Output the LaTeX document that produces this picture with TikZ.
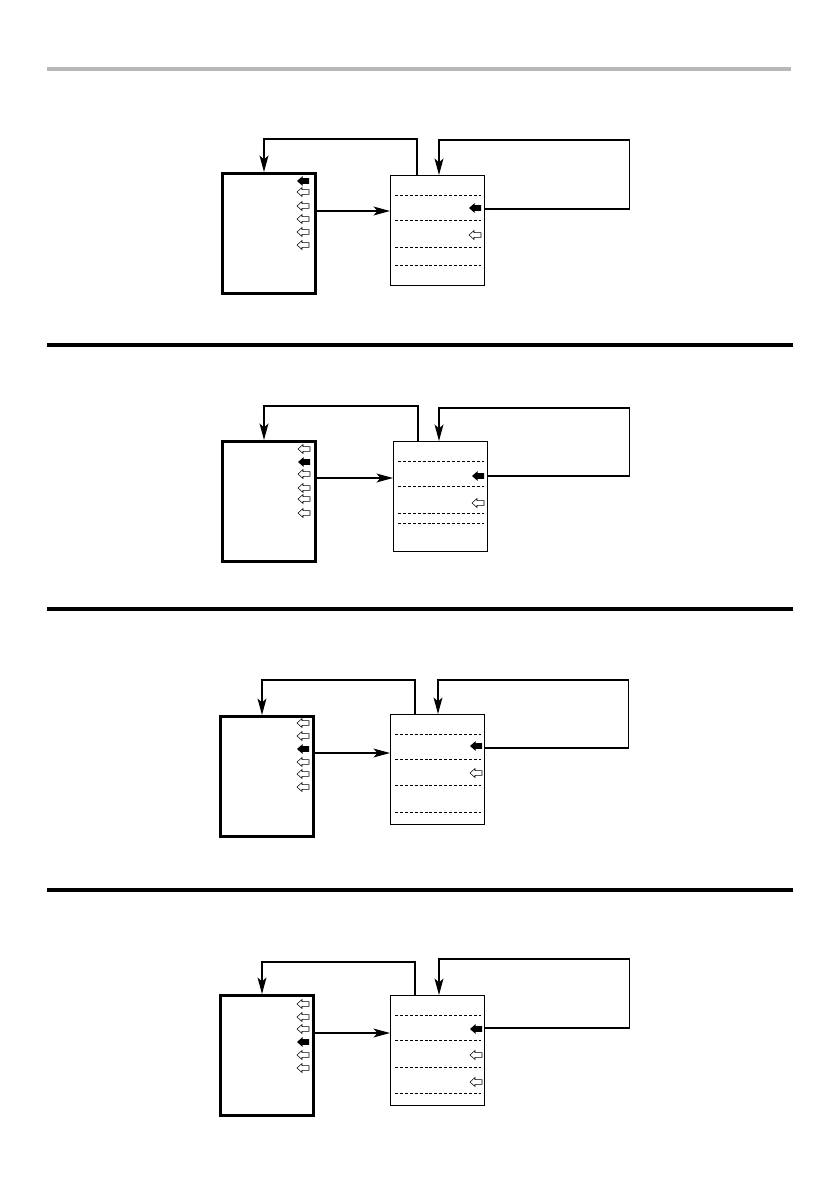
\documentclass[tikz,border=0pt]{standalone}
\usepackage{tikz}
\usetikzlibrary{positioning, arrows.meta, calc}

\begin{document}
\begin{tikzpicture}[
  x=0.3mm, y=-0.3mm,
  menubox/.style={rectangle, draw, line width=2.4pt, anchor=north west, inner sep=0pt, minimum width=27.9mm, minimum height=36mm},
  listbox/.style={rectangle, draw, line width=1pt, anchor=north west, inner sep=0pt, minimum width=28.2mm, minimum height=33mm},
  arr/.style={-{Stealth[length=5mm, width=2.7mm, inset=1.3mm]}, line width=1pt},
  sep/.style={line width=2.6pt},
  dline/.style={line width=0.8pt, dash pattern=on 2.6pt off 1.6pt},
  optr/.pic={\draw[line width=0.45pt, fill=white] (0,0) -- (5,-4.5) -- (5,-2.3) -- (12,-2.3) -- (12,2.3) -- (5,2.3) -- (5,4.5) -- cycle;},
  fptr/.pic={\fill (0,0) -- (5.5,-4.8) -- (5.5,-2.8) -- (12,-2.8) -- (12,2.8) -- (5.5,2.8) -- (5.5,4.8) -- cycle;}
]
  \useasboundingbox (0,0) rectangle (839,1191);

  % rules between the panels
  \draw[line width=3.2pt, black!28] (47,69) -- (791,69);
  \draw[sep] (47,345) -- (793,345);
  \draw[sep] (47,609) -- (793,609);
  \draw[sep] (47,890) -- (793,890);

  % panel 1
  \node[menubox] (menu1) at (221,172) {};
  \node[listbox] (list1) at (390,175) {};
  \pic at (297,181) {fptr};
  \foreach \y in {192,206,219,232,245} \pic at (297,\y) {optr};
  \foreach \y in {195,220,247,265} \draw[dline] (395,\y) -- (481,\y);
  \pic at (469,208) {fptr};
  \pic at (469,235) {optr};
  \draw[arr] ($(menu1.north east)+(0,39)$) -- ($(list1.north west)+(0,36)$);
  \draw[arr] ($(list1.north west)+(27,0)$) |- ($(menu1.north west)+(43,-33)$) -- ($(menu1.north west)+(43,0)$);
  \draw[arr] ($(list1.north east)+(0,34)$) -- ++(144,0) |- ($(list1.north west)+(49,-35)$) -- ($(list1.north west)+(49,0)$);

  % panel 2
  \node[menubox] (menu2) at (221,440) {};
  \node[listbox] (list2) at (393,441) {};
  \pic at (298,462) {fptr};
  \foreach \y in {449,474,488,499,513} \pic at (298,\y) {optr};
  \foreach \y in {461,486,513,523} \draw[dline] (398,\y) -- (484,\y);
  \pic at (472,476) {fptr};
  \pic at (472,503) {optr};
  \draw[arr] ($(menu2.north east)+(0,38)$) -- ($(list2.north west)+(0,37)$);
  \draw[arr] ($(list2.north west)+(25,0)$) |- ($(menu2.north west)+(43,-34)$) -- ($(menu2.north west)+(43,0)$);
  \draw[arr] ($(list2.north east)+(0,35)$) -- ++(141,0) |- ($(list2.north west)+(46,-33)$) -- ($(list2.north west)+(46,0)$);

  % panel 3
  \node[menubox] (menu3) at (219,715) {};
  \node[listbox] (list3) at (390,714) {};
  \pic at (297,749) {fptr};
  \foreach \y in {723,736,762,774,787} \pic at (297,\y) {optr};
  \foreach \y in {734,759,785,812} \draw[dline] (395,\y) -- (481,\y);
  \pic at (470,746) {fptr};
  \pic at (470,773) {optr};
  \draw[arr] ($(menu3.north east)+(0,38)$) -- ($(list3.north west)+(0,39)$);
  \draw[arr] ($(list3.north west)+(25,0)$) |- ($(menu3.north west)+(43,-35)$) -- ($(menu3.north west)+(43,0)$);
  \draw[arr] ($(list3.north east)+(0,34)$) -- ++(143,0) |- ($(list3.north west)+(48,-34)$) -- ($(list3.north west)+(48,0)$);

  % panel 4
  \node[menubox] (menu4) at (219,994) {};
  \node[listbox] (list4) at (390,995) {};
  \pic at (297,1042) {fptr};
  \foreach \y in {1004,1017,1029,1055,1068} \pic at (297,\y) {optr};
  \foreach \y in {1015,1040,1067,1093} \draw[dline] (395,\y) -- (481,\y);
  \pic at (470,1029) {fptr};
  \foreach \y in {1055,1082} \pic at (470,\y) {optr};
  \draw[arr] ($(menu4.north east)+(0,39)$) -- ($(list4.north west)+(0,38)$);
  \draw[arr] ($(list4.north west)+(25,0)$) |- ($(menu4.north west)+(43,-32)$) -- ($(menu4.north west)+(43,0)$);
  \draw[arr] ($(list4.north east)+(0,33)$) -- ++(144,0) |- ($(list4.north west)+(49,-36)$) -- ($(list4.north west)+(49,0)$);
\end{tikzpicture}
\end{document}
